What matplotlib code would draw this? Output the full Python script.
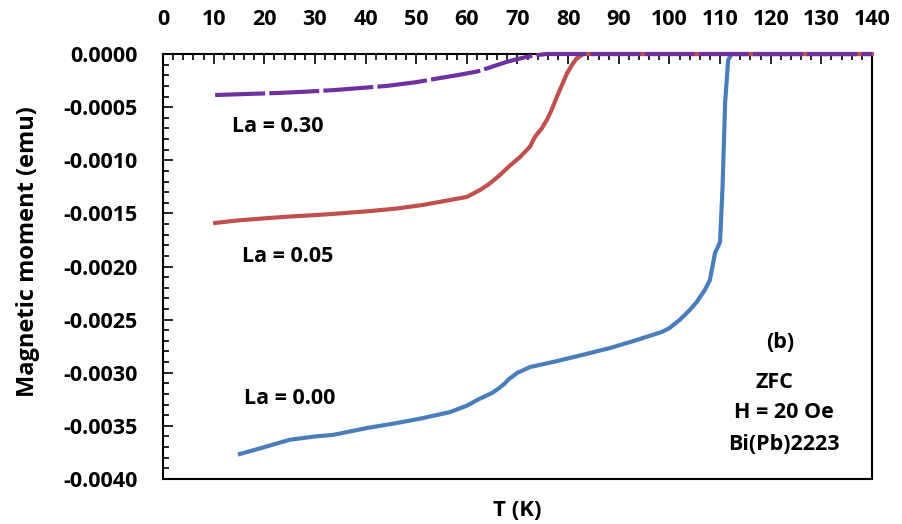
import matplotlib
matplotlib.use('Agg')
import matplotlib.pyplot as plt
from matplotlib.ticker import MultipleLocator
import numpy as np

plt.rcParams['font.family'] = ['Open Sans', 'DejaVu Sans']
plt.rcParams['font.weight'] = 'bold'

# ZFC magnetic moment (emu) versus temperature (K)
t_la000 = [15.2, 20, 25.1, 30, 33.6, 40.3, 46.2, 51, 56.7, 60, 62.3, 65, 66.5, 67.5,
           68.3, 70, 72.5, 75, 77.8, 83, 88.3, 93, 98.5, 100, 102.1, 104, 105.4, 107,
           108.0, 109.0, 110.0, 110.5, 111.0, 111.6, 112.3, 120, 130, 140]
m_la000 = [-3.765, -3.70, -3.63, -3.60, -3.585, -3.52, -3.473, -3.43, -3.37, -3.31,
           -3.25, -3.19, -3.14, -3.10, -3.06, -3.00, -2.946, -2.92, -2.89, -2.83,
           -2.767, -2.70, -2.616, -2.58, -2.50, -2.41, -2.334, -2.22, -2.127, -1.875,
           -1.77, -1.25, -0.46, -0.056, 0, 0, 0, 0]

t_la005 = [10.3, 15, 20.5, 25, 30.4, 35, 40.9, 46, 51.4, 56, 60.0, 62.6, 64.5, 66.5,
           68.5, 70.5, 72.5, 73.1, 73.6, 74.8, 75.8, 76.8, 77.8, 78.8, 79.8, 80.8,
           81.7, 83, 90, 100, 110, 120, 130, 140]
m_la005 = [-1.59, -1.565, -1.545, -1.53, -1.515, -1.50, -1.478, -1.455, -1.42, -1.38,
           -1.345, -1.28, -1.22, -1.14, -1.05, -0.97, -0.87, -0.81, -0.77, -0.70,
           -0.62, -0.52, -0.40, -0.29, -0.18, -0.10, -0.04, 0, 0, 0, 0, 0, 0, 0]

t_la030 = [10.3, 16, 22.5, 28, 33.6, 39, 44.2, 50, 54.7, 58, 62.0, 64, 65.9, 68, 70.5,
           72, 73.9, 75.8, 80, 90, 100, 110, 120, 130, 140]
m_la030 = [-0.386, -0.377, -0.367, -0.355, -0.34, -0.32, -0.30, -0.265, -0.226, -0.20,
           -0.165, -0.135, -0.105, -0.072, -0.042, -0.025, -0.01, 0, 0, 0, 0, 0, 0, 0, 0]

y_ticks = [0.0, -0.0005, -0.0010, -0.0015, -0.0020, -0.0025, -0.0030, -0.0035, -0.0040]
y_tick_labels = ['0.0000', '-0.0005', '-0.0010', '-0.0015', '-0.0020',
                 '-0.0025', '-0.0030', '-0.0035', '-0.0040']

fig = plt.figure(figsize=(9.02, 5.24), dpi=100)
ax = fig.add_axes([0.1807, 0.0859, 0.786, 0.811])

ax.plot(t_la000, np.array(m_la000) * 1e-3, color='#4a7ebb', lw=3, zorder=3, clip_on=False)
ax.plot(t_la005, np.array(m_la005) * 1e-3, color='#c0504d', lw=3, zorder=4, clip_on=False)
ax.plot(t_la030, np.array(m_la030) * 1e-3, color='#7030a0', lw=3, zorder=5, clip_on=False,
        linestyle=(0, (12, 1)))

ax.set_xlim(0, 140)
ax.set_ylim(-0.004, 0)
ax.xaxis.set_major_locator(MultipleLocator(10))
ax.xaxis.set_minor_locator(MultipleLocator(2))
ax.set_yticks(y_ticks)
ax.set_yticklabels(y_tick_labels)
ax.yaxis.set_minor_locator(MultipleLocator(0.0001))

ax.tick_params(axis='x', which='both', top=True, bottom=False, labeltop=True,
               labelbottom=False, direction='in')
ax.tick_params(axis='y', which='both', left=True, right=False, direction='in')
ax.tick_params(which='major', length=7, width=1.2, labelsize=15.5)
ax.tick_params(which='minor', length=4, width=1.2)
ax.tick_params(axis='x', which='major', pad=17.5)
ax.tick_params(axis='y', which='major', pad=18)

for s in ax.spines.values():
    s.set_linewidth(1.5)

# axis titles: temperature sits under the frame, moment runs up the left side
fig.text(28 / 902, 1 - 252 / 524, 'Magnetic moment (emu)', fontsize=17, fontweight='bold',
         rotation=90, ha='center', va='center')
fig.text(517 / 902, 1 - 511 / 524, 'T (K)', fontsize=16, fontweight='bold',
         ha='center', va='center')

labels = [('La = 0.30', 278, 127), ('La = 0.05', 288, 257), ('La = 0.00', 290, 398),
          ('(b)', 780, 343), ('ZFC', 774, 383), ('H = 20 Oe', 784, 413),
          ('Bi(Pb)2223', 784, 444)]
for txt, px, py in labels:
    fig.text(px / 902, 1 - py / 524, txt, fontsize=15.5, fontweight='bold',
             ha='center', va='center')

fig.savefig('out.png', dpi=100)
